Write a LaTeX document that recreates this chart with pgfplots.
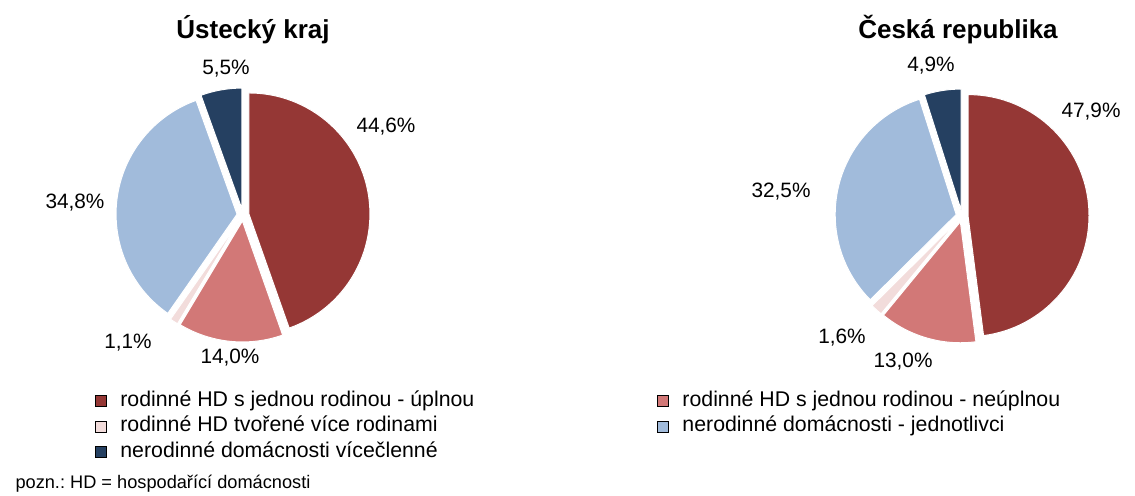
\documentclass[border=0pt]{standalone}
\usepackage{fontspec}
\setmainfont{Liberation Sans}
\usepackage{pgfplots}
\usepackage{pgfplotstable}
\pgfplotsset{compat=1.18}
\frenchspacing

\definecolor{cA}{HTML}{953735}
\definecolor{cB}{HTML}{D27877}
\definecolor{cC}{HTML}{F2DCDB}
\definecolor{cD}{HTML}{A1BBDB}
\definecolor{cE}{HTML}{254061}

% share of households (%), clockwise from 12 o'clock
\pgfplotstableread{
value color
44.6 cA
14.0 cB
1.1  cC
34.8 cD
5.5  cE
}\ustecky
\pgfplotstableread{
value color
47.9 cA
13.0 cB
1.6  cC
32.5 cD
4.9  cE
}\ceskarep

\def\R{121}
\def\explode{6}

\newcommand\drawpie[3]{%
  \pgfplotstablegetrowsof{#1}%
  \pgfmathtruncatemacro\nrows{\pgfplotsretval-1}%
  \gdef\total{0}%
  \pgfplotsforeachungrouped \i in {0,...,\nrows}{%
    \pgfplotstablegetelem{\i}{value}\of{#1}%
    \pgfmathsetmacro\tmp{\total+\pgfplotsretval}\xdef\total{\tmp}%
  }%
  \gdef\cum{0}%
  \pgfplotsforeachungrouped \i in {0,...,\nrows}{%
    \pgfplotstablegetelem{\i}{value}\of{#1}\let\val\pgfplotsretval
    \pgfplotstablegetelem{\i}{color}\of{#1}\let\col\pgfplotsretval
    \pgfmathsetmacro\astart{90-360*(\cum/\total)}%
    \pgfmathsetmacro\aend{90-360*((\cum+\val)/\total)}%
    \pgfmathsetmacro\amid{(\astart+\aend)/2}%
    \pgfmathsetmacro\ax{#2+\explode*cos(\amid)}%
    \pgfmathsetmacro\ay{#3+\explode*sin(\amid)}%
    \edef\cmd{\noexpand\fill[fill=\col, draw=white, line width=1pt]
      (axis cs:\ax,\ay) -- ++(\astart:\R pt)
      arc[start angle=\astart, end angle=\aend, radius=\R pt] -- cycle;}%
    \cmd
    \pgfmathsetmacro\tmp{\cum+\val}\xdef\cum{\tmp}%
  }%
}

\pgfplotsset{
  pieaxis/.style={
    x=1pt, y=1pt, xmin=0, xmax=1135, ymin=0, ymax=490,
    scale only axis, hide axis, clip=false,
    legend cell align=left,
    legend image code/.code={\fill[##1] (0pt,-5.5pt) rectangle (11pt,5.5pt);},
    legend style={draw=none, fill=none, inner sep=0pt, outer sep=0pt,
      anchor=north west, row sep=5.5pt,
      font=\fontsize{21.3}{25}\selectfont,
      nodes={inner sep=0pt, text height=15pt, text depth=5pt},
      /tikz/every odd column/.append style={column sep=14pt}},
  },
}
\tikzset{
  lbl/.style={font=\fontsize{20.8}{24}\selectfont, anchor=center},
  ttl/.style={font=\fontsize{26}{30}\selectfont\bfseries, anchor=base},
}

\begin{document}
\begin{tikzpicture}
\begin{axis}[pieaxis, legend style={at={(0.0837,0.202)}}]
  \drawpie{\ustecky}{243}{275}
  \addlegendimage{fill=cA}\addlegendentry{rodinné HD s jednou rodinou - úplnou}
  \addlegendimage{fill=cC}\addlegendentry{rodinné HD tvořené více rodinami}
  \addlegendimage{fill=cE}\addlegendentry{nerodinné domácnosti vícečlenné}
  \node[ttl] at (axis cs:253,451) {Ústecký kraj};
  \node[lbl] at (axis cs:386,363) {44,6\%};
  \node[lbl] at (axis cs:230,132) {14,0\%};
  \node[lbl] at (axis cs:128,147) {1,1\%};
  \node[lbl] at (axis cs:75,287) {34,8\%};
  \node[lbl] at (axis cs:226,421) {5,5\%};
  \node[anchor=base west, font=\fontsize{18.2}{20}\selectfont] at (axis cs:12,2) {pozn.: HD = hospodařící domácnosti};
\end{axis}
\begin{axis}[pieaxis, legend style={at={(0.5789,0.202)}}]
  \drawpie{\ceskarep}{962}{274}
  \addlegendimage{fill=cB}\addlegendentry{rodinné HD s jednou rodinou - neúplnou}
  \addlegendimage{fill=cD}\addlegendentry{nerodinné domácnosti - jednotlivci}
  \node[ttl] at (axis cs:958,451) {Česká republika};
  \node[lbl] at (axis cs:1091,378) {47,9\%};
  \node[lbl] at (axis cs:903,128) {13,0\%};
  \node[lbl] at (axis cs:842,152) {1,6\%};
  \node[lbl] at (axis cs:781,298) {32,5\%};
  \node[lbl] at (axis cs:931,424) {4,9\%};
\end{axis}
\useasboundingbox (0,0) rectangle (1135pt,490pt);
\end{tikzpicture}
\end{document}
